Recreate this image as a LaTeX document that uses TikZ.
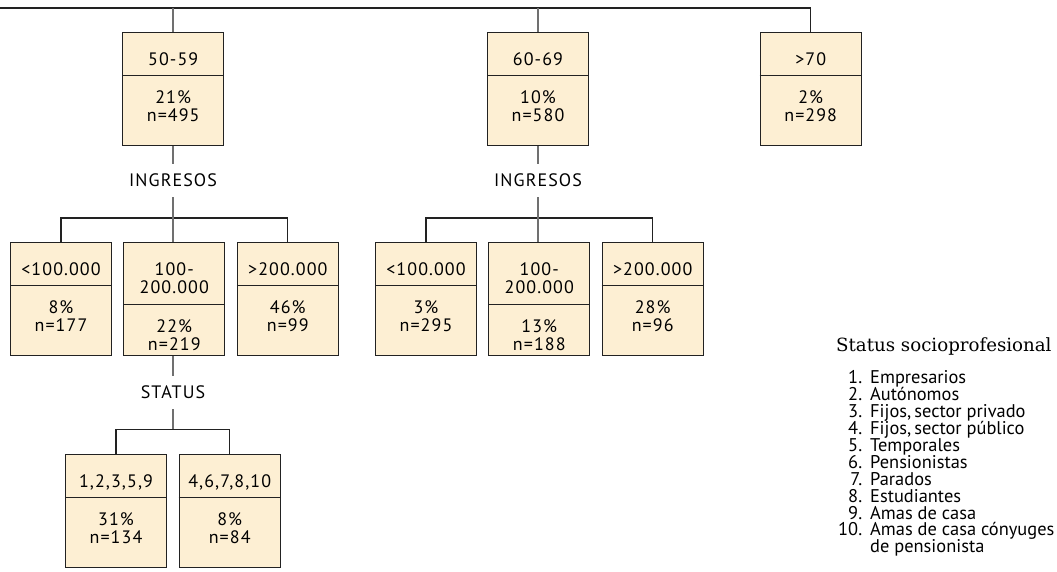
\documentclass[tikz,border=0pt]{standalone}
\usepackage{fontspec}
\setmainfont{PT Sans}
\newfontfamily\serifttl{DejaVu Serif}
\newfontfamily\treefont[LetterSpace=6]{PT Sans}
\definecolor{boxfill}{HTML}{FDEFD3}
\definecolor{stemgray}{HTML}{707070}
\definecolor{linedark}{HTML}{222222}
\newcommand\tightlines{\lineskiplimit=-30pt\relax}
\tikzset{
  tb/.style={draw=linedark, line width=1pt, fill=boxfill, minimum width=101pt,
    minimum height=112.8pt, inner sep=0pt, anchor=north},
  divline/.style={draw=linedark, line width=0.9pt},
  tt/.style={font=\treefont\fontsize{18}{18}\selectfont, inner sep=0pt,
    align=center, anchor=north, text=black},
  stem/.style={draw=stemgray, line width=2pt},
  branch/.style={draw=linedark, line width=1.1pt},
  varlbl/.style={font=\treefont\fontsize{18}{18}\selectfont, inner sep=0pt,
    minimum height=33pt, text=black},
  legtitle/.style={font=\serifttl\fontsize{18.2}{20}\selectfont, inner sep=0pt,
    anchor=base west, text=black},
  leglist/.style={font={\fontsize{18.4}{16.9}\selectfont\tightlines},
    inner sep=0pt, anchor=north west, align=left, text=black}
}
\newcommand\tbox[7]{%
  \node[tb] (#1) at (#2,#3) {};
  \draw[divline] ([yshift=-#4pt]#1.north west) -- ([yshift=-#4pt]#1.north east);
  \node[tt] (#1t) at ([yshift=-20.5pt]#1.north) {#5};
  \node[tt] (#1b) at ([yshift={-(#4+14.5)*1pt}]#1.north) {#6\\#7};
}
\newcommand\lnum[1]{\makebox[24pt][r]{#1}\hspace{8pt}}
\begin{document}
\begin{tikzpicture}[x=1pt,y=-1pt]
\useasboundingbox (0,0) rectangle (1057,571);
% level 1
\tbox{b50}{173.2}{32.3}{43.5}{50-59}{21\%}{n=495}
\tbox{b60}{538}{32.3}{43.5}{60-69}{10\%}{n=580}
\tbox{b70}{810.7}{32.3}{43.5}{>70}{2\%}{n=298}
% level 2 left
\tbox{l1}{61}{242.3}{43.5}{<100.000}{8\%}{n=177}
\tbox{l2}{174.3}{242.3}{62.4}{100-\\200.000}{22\%}{n=219}
\tbox{l3}{287.8}{242.3}{43.5}{>200.000}{46\%}{n=99}
% level 2 right
\tbox{r1}{426}{242.3}{43.5}{<100.000}{3\%}{n=295}
\tbox{r2}{539.3}{242.3}{62.4}{100-\\200.000}{13\%}{n=188}
\tbox{r3}{652.7}{242.3}{43.5}{>200.000}{28\%}{n=96}
% level 3
\tbox{s1}{116}{454.3}{43.5}{1,2,3,5,9}{31\%}{n=134}
\tbox{s2}{229.7}{454.3}{43.5}{4,6,7,8,10}{8\%}{n=84}
% top connectors
\coordinate (topL) at (0,8);
\draw[branch] (topL) -| (b70.north);
\draw[stem] (b50.north |- topL) -- (b50.north);
\draw[stem] (b60.north |- topL) -- (b60.north);
% INGRESOS left
\node[varlbl] (ing1) at (173,180.5) {INGRESOS};
\coordinate (j1) at (173,218);
\draw[branch] (l1.north) |- (j1) -| (l3.north);
\draw[stem] (ing1.north |- b50.south) -- (ing1.north);
\draw[stem] (ing1.south) -- (j1) -- (j1 |- l2.north);
% INGRESOS right
\node[varlbl] (ing2) at (538,180.5) {INGRESOS};
\coordinate (j2) at (538,218);
\draw[branch] (r1.north) |- (j2) -| (r3.north);
\draw[stem] (ing2.north |- b60.south) -- (ing2.north);
\draw[stem] (ing2.south) -- (j2) -- (j2 |- r2.north);
% STATUS
\node[varlbl] (st) at (173,392.5) {STATUS};
\coordinate (j3) at (173,429.3);
\draw[branch] (s1.north) |- (j3) -| (s2.north);
\draw[stem] (st.north |- l2.south) -- (st.north);
\draw[stem] (st.south) -- (j3);
% legend
\node[legtitle] (lt) at (836,351.7) {Status socioprofesional};
\node[leglist] (ll) at (838,370.5) {%
\lnum{1.}Empresarios\\
\lnum{2.}Autónomos\\
\lnum{3.}Fijos,\,sector privado\\
\lnum{4.}Fijos,\,sector público\\
\lnum{5.}Temporales\\
\lnum{6.}Pensionistas\\
\lnum{7.}Parados\\
\lnum{8.}Estudiantes\\
\lnum{9.}Amas de casa\\
\lnum{10.}Amas de casa cónyuges\\
\lnum{}de pensionista};
\end{tikzpicture}
\end{document}
